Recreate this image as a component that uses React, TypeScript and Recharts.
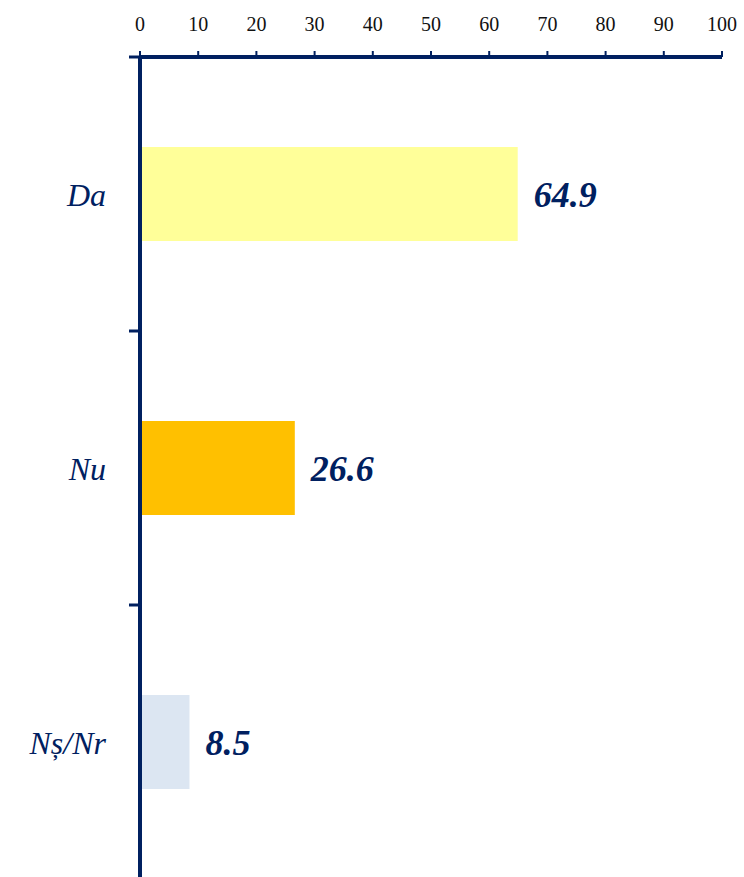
import React from 'react';
import { BarChart, Bar, XAxis, YAxis, Cell, LabelList } from 'recharts';

const categories = ['Da', 'Nu', 'Nș/Nr'];
const values = [64.9, 26.6, 8.5];
const barColors = ['#FFFF99', '#FFC000', '#DCE6F2'];
const xTicks = [0, 10, 20, 30, 40, 50, 60, 70, 80, 90, 100];
const boundaryTicks = [0, 1, 2, 3];

const data = categories.map((name, i) => ({ name, value: values[i], slot: categories.length - i - 0.5 }));

const NAVY = '#002060';
const FONT = '"Liberation Serif", "Times New Roman", serif';

const XTick = (props: any) => {
  const { x, y, payload } = props;
  return (
    <text x={x} y={y} dy={-20} textAnchor="middle" fontFamily={FONT} fontSize={20} fill="#111">
      {payload.value}
    </text>
  );
};

const NoTick = () => null;

const ValueLabel = (props: any) => {
  const { x, y, width, height, value } = props;
  return (
    <text
      x={Number(x) + Number(width) + 16}
      y={Number(y) + Number(height) / 2 + 13}
      textAnchor="start"
      fontFamily={FONT}
      fontSize={36}
      fontWeight="bold"
      fontStyle="italic"
      fill={NAVY}
    >
      {value}
    </text>
  );
};

const NameLabel = (props: any) => {
  const { x, y, height, value } = props;
  return (
    <text
      x={Number(x) - 34}
      y={Number(y) + Number(height) / 2 + 12}
      textAnchor="end"
      fontFamily={FONT}
      fontSize={32}
      fontStyle="italic"
      fill={NAVY}
    >
      {value}
    </text>
  );
};

export default function App() {
  return (
    <div style={{ position: 'absolute', top: 0, left: 0, background: '#fff' }}>
      <BarChart
        layout="vertical"
        width={744}
        height={890}
        data={data}
        margin={{ top: 0, right: 22, bottom: 11, left: 0 }}
      >
        <XAxis
          type="number"
          orientation="top"
          domain={[0, 100]}
          ticks={xTicks}
          interval={0}
          height={57}
          tickSize={6}
          tickMargin={0}
          axisLine={{ stroke: NAVY, strokeWidth: 4 }}
          tickLine={{ stroke: NAVY, strokeWidth: 2 }}
          tick={XTick}
        />
        <YAxis yAxisId="cat" type="category" dataKey="name" hide width={0} />
        <Bar dataKey="value" yAxisId="cat" barSize={94} isAnimationActive={false}>
          {data.map((d, i) => (
            <Cell key={d.name} fill={barColors[i]} />
          ))}
          <LabelList dataKey="value" content={ValueLabel} />
          <LabelList dataKey="name" content={NameLabel} />
        </Bar>
        <YAxis
          yAxisId="num"
          type="number"
          dataKey="slot"
          domain={[0, 3]}
          ticks={boundaryTicks}
          allowDataOverflow
          interval={0}
          width={140}
          tickSize={11}
          axisLine={{ stroke: NAVY, strokeWidth: 4 }}
          tickLine={{ stroke: NAVY, strokeWidth: 3 }}
          tick={NoTick}
        />
      </BarChart>
    </div>
  );
}
